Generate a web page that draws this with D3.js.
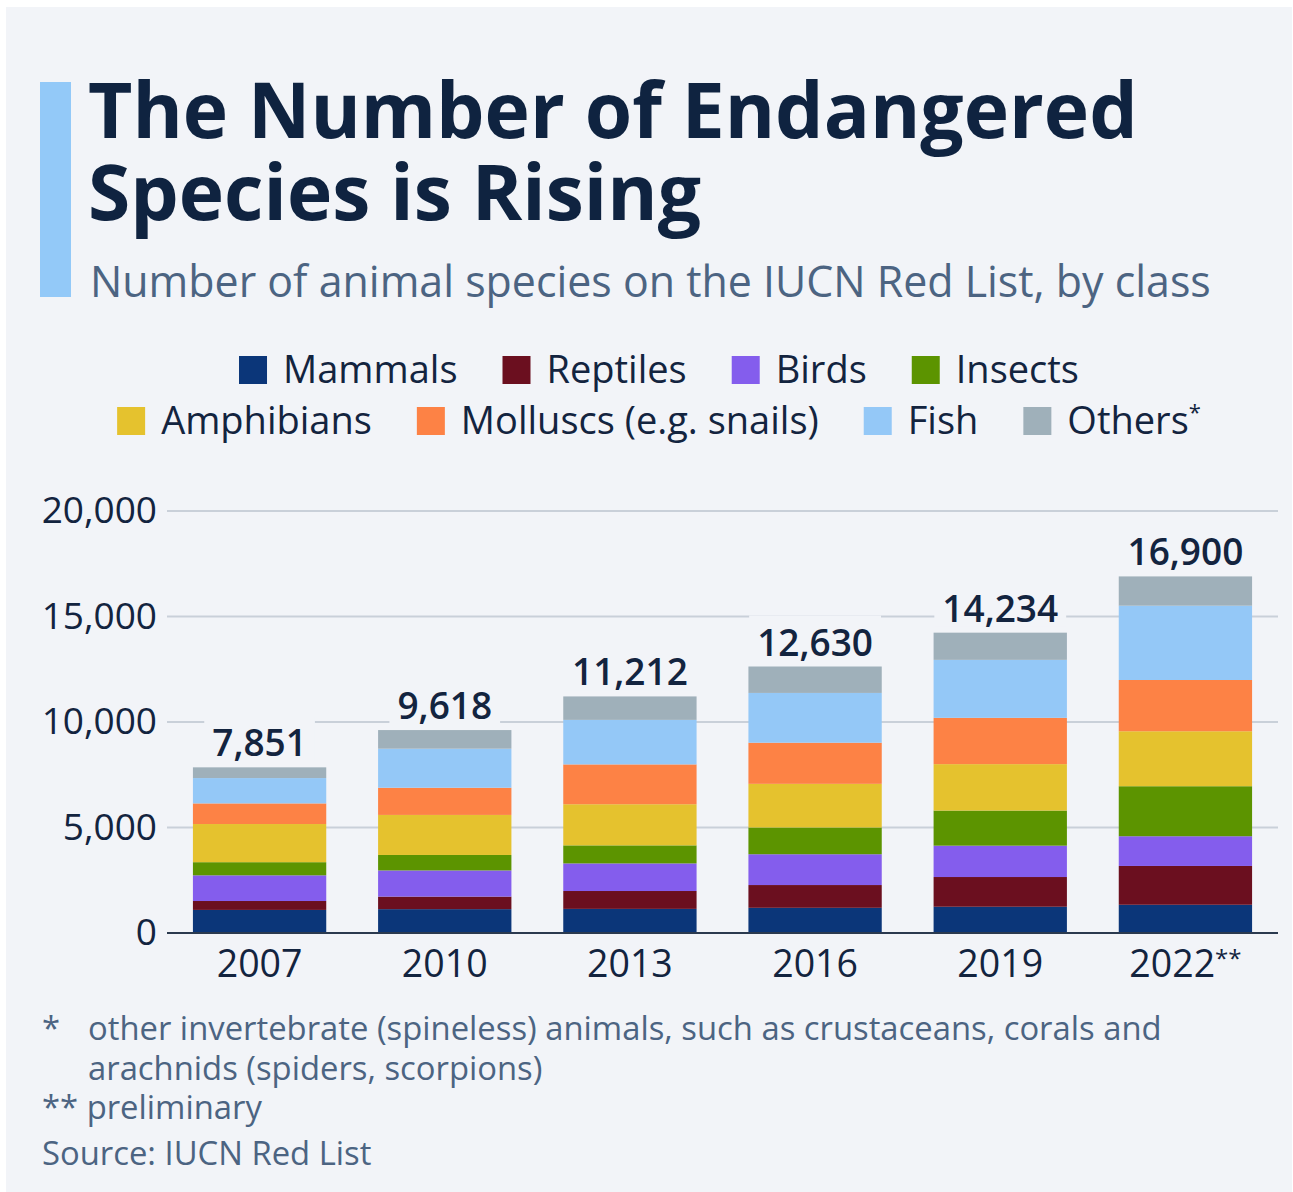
<!DOCTYPE html>
<html>
<head>
<meta charset="utf-8">
<script src="https://cdn.jsdelivr.net/npm/d3@7"></script>
<style>
  body { margin: 0; background: #ffffff; }
  svg { display: block; font-family: 'Open Sans', sans-serif; }
</style>
</head>
<body>
<svg id="chart" width="1293" height="1192"></svg>
<script>
const years = ['2007', '2010', '2013', '2016', '2019', '2022'];
const classes = ['Mammals', 'Reptiles', 'Birds', 'Insects', 'Amphibians', 'Molluscs', 'Fish', 'Others'];
const classLabels = ['Mammals', 'Reptiles', 'Birds', 'Insects', 'Amphibians', 'Molluscs (e.g. snails)', 'Fish', 'Others'];
const classColors = ['#0b3679', '#6b0f1f', '#845ded', '#5c9400', '#e5c22e', '#fd8245', '#94c8f7', '#9fb0ba'];

// threatened species per class and year
const mammals = [1094, 1131, 1143, 1194, 1244, 1338];
const reptiles = [422, 594, 847, 1079, 1409, 1839];
const birds = [1217, 1240, 1308, 1460, 1486, 1409];
const insects = [623, 733, 855, 1268, 1664, 2370];
const amphibians = [1808, 1898, 1950, 2068, 2200, 2606];
const molluscs = [978, 1288, 1887, 1950, 2195, 2429];
const fish = [1201, 1851, 2110, 2359, 2747, 3521];
const others = [508, 883, 1112, 1252, 1289, 1388];
const totals = [7851, 9618, 11212, 12630, 14234, 16900];

const yTicks = [0, 5000, 10000, 15000, 20000];

const series = [mammals, reptiles, birds, insects, amphibians, molluscs, fish, others];
const data = years.map((yr, i) => {
  const row = {year: yr, total: totals[i]};
  classes.forEach((c, j) => row[c] = series[j][i]);
  return row;
});

const svg = d3.select('#chart');
const ink = '#13243f';
const muted = '#4c6482';

svg.append('rect')
  .attr('x', 6).attr('y', 7)
  .attr('width', 1286).attr('height', 1185)
  .attr('fill', '#f2f4f8');

// title block
svg.append('rect')
  .attr('x', 40).attr('y', 82)
  .attr('width', 31).attr('height', 215)
  .attr('fill', '#93c9f8');

svg.append('text')
  .attr('x', 88).attr('y', 138)
  .style('font-size', '76.7px').style('font-weight', 700)
  .style('fill', '#0f2340')
  .text('The Number of Endangered');
svg.append('text')
  .attr('x', 88).attr('y', 220)
  .style('font-size', '76.7px').style('font-weight', 700)
  .style('fill', '#0f2340')
  .text('Species is Rising');
svg.append('text')
  .attr('x', 90).attr('y', 297)
  .style('font-size', '42.9px')
  .style('fill', muted)
  .text('Number of animal species on the IUCN Red List, by class');

// legend, two centred rows
const legendRows = [[0, 1, 2, 3], [4, 5, 6, 7]];
const legendY = [370, 421];
const legendFont = 38;
legendRows.forEach((row, r) => {
  const g = svg.append('g').attr('class', 'legend-row');
  let x = 0;
  row.forEach(k => {
    const item = g.append('g').attr('transform', `translate(${x},0)`);
    item.append('rect')
      .attr('x', 0).attr('y', -14)
      .attr('width', 28).attr('height', 28)
      .attr('fill', classColors[k]);
    const t = item.append('text')
      .attr('x', 44).attr('dy', '0.35em')
      .style('font-size', legendFont + 'px')
      .style('fill', ink)
      .text(classLabels[k]);
    if (k === 7) {
      t.append('tspan').attr('dy', '-0.65em').style('font-size', '22px').text('*');
    }
    x += 44 + t.node().getComputedTextLength() + 45;
  });
  const w = x - 45;
  g.attr('transform', `translate(${659 - w / 2},${legendY[r]})`);
});

// chart area
const margin = {left: 167, right: 1278, top: 511, bottom: 933};

const x = d3.scaleBand()
  .domain(years)
  .range([margin.left, margin.right])
  .paddingInner(0.28)
  .paddingOuter(0.14);

const y = d3.scaleLinear()
  .domain([0, 20000])
  .range([margin.bottom, margin.top]);

// gridlines
svg.append('g')
  .selectAll('line')
  .data(yTicks.filter(d => d > 0))
  .join('line')
  .attr('x1', margin.left).attr('x2', margin.right)
  .attr('y1', d => y(d)).attr('y2', d => y(d))
  .attr('stroke', '#c9d0d9')
  .attr('stroke-width', 2);

const yAxis = svg.append('g')
  .attr('transform', `translate(${margin.left},0)`)
  .call(d3.axisLeft(y).tickValues(yTicks).tickSize(0).tickPadding(10).tickFormat(d3.format(',')));
yAxis.select('.domain').remove();
yAxis.selectAll('text')
  .style('font-family', "'Open Sans', sans-serif")
  .style('font-size', '37px')
  .style('fill', ink);

// stacked bars
const stack = d3.stack().keys(classes);
const layers = stack(data);

svg.append('g')
  .selectAll('g')
  .data(layers)
  .join('g')
  .attr('fill', (d, i) => classColors[i])
  .selectAll('rect')
  .data(d => d)
  .join('rect')
  .attr('x', d => x(d.data.year))
  .attr('width', x.bandwidth())
  .attr('y', d => y(d[1]))
  .attr('height', d => y(d[0]) - y(d[1]));

// baseline
svg.append('line')
  .attr('x1', margin.left).attr('x2', margin.right)
  .attr('y1', y(0)).attr('y2', y(0))
  .attr('stroke', '#2b3a4f')
  .attr('stroke-width', 2);

// x axis
const xAxis = svg.append('g')
  .attr('transform', `translate(0,${y(0)})`)
  .call(d3.axisBottom(x).tickSize(0).tickPadding(17));
xAxis.select('.domain').remove();
xAxis.selectAll('text')
  .style('font-family', "'Open Sans', sans-serif")
  .style('font-size', '37.5px')
  .style('fill', ink)
  .each(function (d) {
    if (d === '2022') {
      d3.select(this).append('tspan')
        .attr('dy', '-0.4em')
        .style('font-size', '24px')
        .text('**');
    }
  });

// totals above bars, masking the gridlines
const labels = svg.append('g')
  .selectAll('g')
  .data(data)
  .join('g');
labels.append('rect').attr('class', 'mask').attr('fill', '#f2f4f8');
labels.append('text')
  .attr('x', d => x(d.year) + x.bandwidth() / 2)
  .attr('y', d => y(d.total) - 11)
  .attr('text-anchor', 'middle')
  .style('font-size', '37px')
  .style('font-weight', 600)
  .style('fill', ink)
  .text(d => d3.format(',')(d.total));
labels.each(function () {
  const g = d3.select(this);
  const b = g.select('text').node().getBBox();
  g.select('rect.mask')
    .attr('x', b.x - 8).attr('y', b.y)
    .attr('width', b.width + 16).attr('height', b.height - 6);
});

// footnotes
const notes = svg.append('g')
  .style('font-size', '32.8px')
  .style('fill', muted);
notes.append('text').attr('x', 42).attr('y', 1040).text('*');
notes.append('text').attr('x', 88).attr('y', 1040)
  .text('other invertebrate (spineless) animals, such as crustaceans, corals and');
notes.append('text').attr('x', 88).attr('y', 1080)
  .text('arachnids (spiders, scorpions)');
notes.append('text').attr('x', 42).attr('y', 1119).text('** preliminary');
notes.append('text').attr('x', 42).attr('y', 1165).text('Source: IUCN Red List');
</script>
</body>
</html>
